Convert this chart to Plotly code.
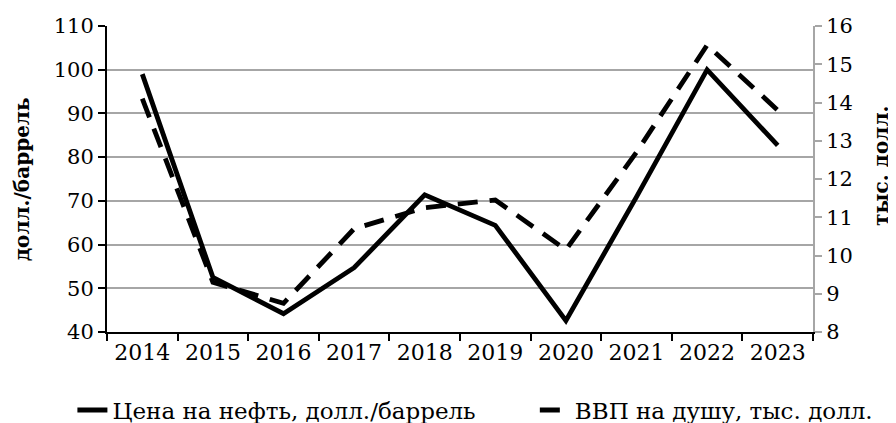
import plotly.graph_objects as go

# Годы и значения
years = ["2014", "2015", "2016", "2017", "2018", "2019", "2020", "2021", "2022", "2023"]
oil_price = [99.0, 52.5, 44.2, 54.7, 71.4, 64.4, 42.6, 70.9, 100.0, 82.7]
gdp_per_capita = [14.1, 9.3, 8.75, 10.7, 11.25, 11.45, 10.15, 12.7, 15.5, 13.8]

left_ticks = [40, 50, 60, 70, 80, 90, 100, 110]
right_ticks = [8, 9, 10, 11, 12, 13, 14, 15, 16]

serif = "DejaVu Serif"

fig = go.Figure()

fig.add_trace(go.Scatter(
    x=years, y=oil_price, mode="lines",
    name="Цена на нефть, долл./баррель",
    line=dict(color="black", width=4.8),
    yaxis="y", legend="legend",
))

fig.add_trace(go.Scatter(
    x=years, y=gdp_per_capita, mode="lines",
    name="ВВП на душу, тыс. долл.",
    line=dict(color="black", width=4.8, dash="20px,12px"),
    yaxis="y2", legend="legend2",
))

legend_style = dict(
    orientation="h", yanchor="middle", y=-0.255, xanchor="left",
    font=dict(family=serif, size=23, color="black"),
    bgcolor="rgba(0,0,0,0)", itemwidth=30,
)

# the page body adds an 8px offset, so the figure is 8px smaller than the window
fig.update_layout(
    width=888, height=415,
    margin=dict(l=99, r=83, t=18, b=91, autoexpand=False),
    paper_bgcolor="white", plot_bgcolor="white",
    font=dict(family=serif, size=21, color="black"),
    showlegend=True,
    legend=dict(legend_style, x=-0.049),
    legend2=dict(legend_style, x=0.606),
    xaxis=dict(
        type="category", tickson="boundaries", automargin=False,
        showline=True, linecolor="black", linewidth=2,
        ticks="outside", ticklen=7, tickwidth=2, tickcolor="black",
        showgrid=False, zeroline=False,
        tickfont=dict(family=serif, size=22),
        range=[-0.5, 9.5],
    ),
    yaxis=dict(
        range=[40, 110], tickvals=left_ticks, automargin=False,
        showline=True, linecolor="black", linewidth=2,
        ticks="outside", ticklen=7, tickwidth=2, tickcolor="black",
        showgrid=True, gridcolor="#a6a6a6", gridwidth=2,
        zeroline=False,
        tickfont=dict(family=serif, size=21),
    ),
    yaxis2=dict(
        range=[8, 16], tickvals=right_ticks, automargin=False,
        overlaying="y", side="right",
        showline=True, linecolor="#a6a6a6", linewidth=2,
        ticks="outside", ticklen=7, tickwidth=2, tickcolor="#a6a6a6",
        showgrid=False, zeroline=False,
        tickfont=dict(family=serif, size=21),
    ),
)

# Подписи осей
fig.add_annotation(
    text="<b>долл./баррель</b>", textangle=-90,
    xref="paper", yref="paper", x=-0.12, y=0.5,
    xanchor="center", yanchor="middle", showarrow=False,
    font=dict(family=serif, size=20, color="black"),
)
fig.add_annotation(
    text="<b>тыс. долл.</b>", textangle=-90,
    xref="paper", yref="paper", x=1.096, y=0.542,
    xanchor="center", yanchor="middle", showarrow=False,
    font=dict(family=serif, size=20, color="black"),
)

fig.write_html("out.html")
